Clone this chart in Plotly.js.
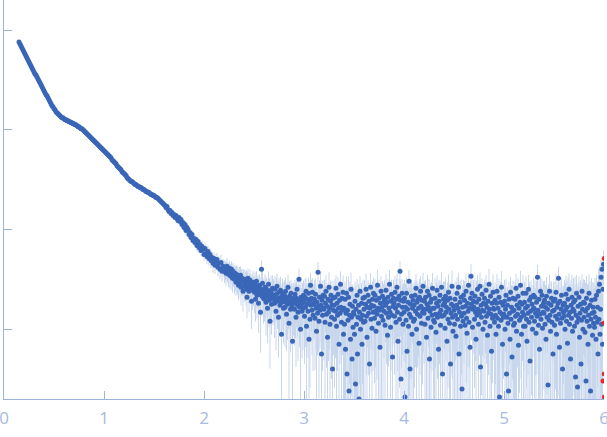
<!DOCTYPE html>
<html><head><meta charset="utf-8">
<script src="https://cdn.plot.ly/plotly-3.0.1.min.js"></script>
<style>html,body{margin:0;padding:0;background:#fff}#chart{width:607px;height:437px}</style>
</head><body><div id="chart"></div>
<script>
// scattering vector q (x) and log10 intensity, smooth low-q part
const qSmooth=[0.15,0.16,0.17,0.18,0.19,0.2,0.21,0.22,0.23,0.24,
0.25,0.26,0.27,0.28,0.29,0.3,0.31,0.32,0.33,0.34,
0.35,0.36,0.37,0.38,0.39,0.4,0.41,0.42,0.43,0.44,
0.45,0.46,0.47,0.48,0.49,0.5,0.51,0.52,0.53,0.54,
0.55,0.56,0.57,0.58,0.59,0.6,0.61,0.62,0.63,0.64,
0.65,0.66,0.67,0.68,0.69,0.7,0.71,0.72,0.73,0.74,
0.75,0.76,0.77,0.78,0.79,0.8,0.81,0.82,0.83,0.84,
0.85,0.86,0.87,0.88,0.89,0.9,0.91,0.92,0.93,0.94,
0.95,0.96,0.97,0.98,0.99,1,1.01,1.02,1.03,1.04,
1.05,1.06,1.07,1.08,1.09,1.1,1.11,1.12,1.13,1.14,
1.15,1.16,1.17,1.18,1.19,1.2,1.21,1.22,1.23,1.24,
1.25,1.26,1.27,1.28,1.29,1.3,1.31,1.32,1.33,1.34,
1.35,1.36,1.37,1.38,1.39,1.4,1.41,1.42,1.43,1.44,
1.45,1.46,1.47,1.48,1.49,1.5,1.51,1.52,1.53,1.54,
1.55,1.56,1.57,1.58,1.59,1.6,1.61,1.62,1.63,1.64,
1.65,1.66,1.67,1.68,1.69,1.7,1.71,1.72,1.73,1.74,
1.75,1.76,1.77,1.78,1.79,1.8,1.81,1.82,1.83,1.84,
1.85,1.86,1.87,1.88,1.89,1.9,1.91,1.92,1.93,1.94,
1.95,1.96,1.97,1.98,1.99,2,2.01,2.02,2.03,2.04,
2.05,2.06,2.07,2.08,2.09,2.1,2.11,2.12,2.13,2.14,
2.15,2.16,2.17,2.18,2.19];
const logISmooth=[-0.12,-0.14,-0.16,-0.18,-0.20,-0.22,-0.24,-0.26,-0.28,-0.30,
-0.32,-0.34,-0.36,-0.38,-0.40,-0.42,-0.44,-0.45,-0.47,-0.49,
-0.51,-0.53,-0.55,-0.57,-0.59,-0.61,-0.63,-0.65,-0.66,-0.68,
-0.70,-0.72,-0.74,-0.76,-0.77,-0.79,-0.80,-0.82,-0.83,-0.84,
-0.85,-0.86,-0.87,-0.88,-0.88,-0.89,-0.90,-0.90,-0.91,-0.91,
-0.92,-0.92,-0.93,-0.93,-0.94,-0.94,-0.95,-0.95,-0.96,-0.97,
-0.97,-0.98,-0.99,-0.99,-1.00,-1.01,-1.02,-1.03,-1.04,-1.05,
-1.06,-1.07,-1.08,-1.09,-1.10,-1.11,-1.12,-1.13,-1.14,-1.15,
-1.16,-1.17,-1.18,-1.19,-1.20,-1.21,-1.22,-1.23,-1.24,-1.25,
-1.26,-1.27,-1.28,-1.30,-1.31,-1.32,-1.33,-1.34,-1.36,-1.37,
-1.38,-1.39,-1.40,-1.42,-1.43,-1.44,-1.45,-1.46,-1.48,-1.49,
-1.50,-1.51,-1.52,-1.52,-1.53,-1.54,-1.55,-1.55,-1.56,-1.57,
-1.57,-1.58,-1.58,-1.59,-1.60,-1.60,-1.61,-1.62,-1.62,-1.63,
-1.63,-1.64,-1.65,-1.65,-1.66,-1.66,-1.67,-1.68,-1.68,-1.69,
-1.70,-1.71,-1.72,-1.73,-1.74,-1.75,-1.76,-1.78,-1.77,-1.80,
-1.82,-1.81,-1.84,-1.83,-1.86,-1.85,-1.88,-1.86,-1.89,-1.91,
-1.88,-1.92,-1.90,-1.95,-1.93,-1.98,-1.95,-2.01,-1.98,-2.00,
-2.05,-2.03,-2.08,-2.05,-2.11,-2.09,-2.13,-2.10,-2.16,-2.12,
-2.18,-2.15,-2.21,-2.17,-2.20,-2.25,-2.19,-2.24,-2.27,-2.22,
-2.29,-2.25,-2.31,-2.28,-2.34,-2.29,-2.36,-2.32,-2.30,-2.38,
-2.34,-2.40,-2.33,-2.42,-2.37];
// uncertainty, units of 1e-4
const errSmooth=[60,58,56,55,53,52,50,48,47,45,
44,42,41,40,38,37,36,35,34,33,
32,31,30,29,28,27,26,25,25,24,
23,22,22,21,20,20,19,19,18,18,
18,17,17,17,16,16,16,16,15,15,
15,15,15,14,14,14,14,14,13,13,
13,13,13,13,12,12,12,12,12,12,
12,12,11,11,11,11,11,11,11,11,
11,11,11,11,11,11,11,11,11,11,
10,10,10,10,10,10,10,10,10,10,
10,10,10,10,10,10,10,10,10,10,
10,10,10,10,10,10,10,10,10,10,
10,10,10,10,10,10,10,10,10,10,
10,10,10,10,10,10,10,10,10,10,
9,9,9,9,9,9,9,9,9,9,
9,9,9,9,9,9,9,9,9,9,
9,9,8,9,9,8,9,9,8,9,
9,8,9,9,8,9,8,9,9,8,
8,9,8,9,8,8,9,8,9,8,
8,9,8,8,9,8,8,9,8,8,
8,8,9,8,8];

// noisy high-q part
const qNoisy=[2.2,2.205,2.21,2.215,2.22,2.225,2.23,2.235,2.24,2.245,2.25,2.255,2.26,2.265,2.27,2.275,2.28,2.285,2.29,2.295,
2.3,2.305,2.31,2.315,2.32,2.325,2.33,2.335,2.34,2.345,2.35,2.355,2.36,2.365,2.37,2.375,2.38,2.385,2.39,2.395,
2.4,2.405,2.41,2.415,2.42,2.425,2.43,2.435,2.44,2.445,2.45,2.455,2.46,2.465,2.47,2.475,2.48,2.485,2.49,2.495,
2.5,2.505,2.51,2.515,2.52,2.525,2.53,2.535,2.54,2.545,2.55,2.555,2.56,2.565,2.57,2.575,2.58,2.585,2.59,2.595,
2.6,2.605,2.61,2.615,2.62,2.625,2.63,2.635,2.64,2.645,2.65,2.655,2.66,2.665,2.67,2.675,2.68,2.685,2.69,2.695,
2.7,2.705,2.71,2.715,2.72,2.725,2.73,2.735,2.74,2.745,2.75,2.755,2.76,2.765,2.77,2.775,2.78,2.785,2.79,2.795,
2.8,2.805,2.81,2.815,2.82,2.825,2.83,2.835,2.84,2.845,2.85,2.855,2.86,2.865,2.87,2.875,2.88,2.885,2.89,2.895,
2.9,2.905,2.91,2.915,2.92,2.925,2.93,2.935,2.94,2.945,2.95,2.955,2.96,2.965,2.97,2.975,2.98,2.985,2.99,2.995,
3,3.005,3.01,3.015,3.02,3.025,3.03,3.035,3.04,3.045,3.05,3.055,3.06,3.065,3.07,3.075,3.08,3.085,3.09,3.095,
3.1,3.105,3.11,3.115,3.12,3.125,3.13,3.135,3.14,3.145,3.15,3.155,3.16,3.165,3.17,3.175,3.18,3.185,3.19,3.195,
3.2,3.205,3.21,3.215,3.22,3.225,3.23,3.235,3.24,3.245,3.25,3.255,3.26,3.265,3.27,3.275,3.28,3.285,3.29,3.295,
3.3,3.305,3.31,3.315,3.32,3.325,3.33,3.335,3.34,3.345,3.35,3.355,3.36,3.365,3.37,3.375,3.38,3.385,3.39,3.395,
3.4,3.405,3.41,3.415,3.42,3.425,3.43,3.435,3.44,3.445,3.45,3.455,3.46,3.465,3.47,3.475,3.48,3.485,3.49,3.495,
3.5,3.505,3.51,3.515,3.52,3.525,3.53,3.535,3.54,3.545,3.55,3.555,3.56,3.565,3.57,3.575,3.58,3.585,3.59,3.595,
3.6,3.605,3.61,3.615,3.62,3.625,3.63,3.635,3.64,3.645,3.65,3.655,3.66,3.665,3.67,3.675,3.68,3.685,3.69,3.695,
3.7,3.705,3.71,3.715,3.72,3.725,3.73,3.735,3.74,3.745,3.75,3.755,3.76,3.765,3.77,3.775,3.78,3.785,3.79,3.795,
3.8,3.805,3.81,3.815,3.82,3.825,3.83,3.835,3.84,3.845,3.85,3.855,3.86,3.865,3.87,3.875,3.88,3.885,3.89,3.895,
3.9,3.905,3.91,3.915,3.92,3.925,3.93,3.935,3.94,3.945,3.95,3.955,3.96,3.965,3.97,3.975,3.98,3.985,3.99,3.995,
4,4.005,4.01,4.015,4.02,4.025,4.03,4.035,4.04,4.045,4.05,4.055,4.06,4.065,4.07,4.075,4.08,4.085,4.09,4.095,
4.1,4.105,4.11,4.115,4.12,4.125,4.13,4.135,4.14,4.145,4.15,4.155,4.16,4.165,4.17,4.175,4.18,4.185,4.19,4.195,
4.2,4.205,4.21,4.215,4.22,4.225,4.23,4.235,4.24,4.245,4.25,4.255,4.26,4.265,4.27,4.275,4.28,4.285,4.29,4.295,
4.3,4.305,4.31,4.315,4.32,4.325,4.33,4.335,4.34,4.345,4.35,4.355,4.36,4.365,4.37,4.375,4.38,4.385,4.39,4.395,
4.4,4.405,4.41,4.415,4.42,4.425,4.43,4.435,4.44,4.445,4.45,4.455,4.46,4.465,4.47,4.475,4.48,4.485,4.49,4.495,
4.5,4.505,4.51,4.515,4.52,4.525,4.53,4.535,4.54,4.545,4.55,4.555,4.56,4.565,4.57,4.575,4.58,4.585,4.59,4.595,
4.6,4.605,4.61,4.615,4.62,4.625,4.63,4.635,4.64,4.645,4.65,4.655,4.66,4.665,4.67,4.675,4.68,4.685,4.69,4.695,
4.7,4.705,4.71,4.715,4.72,4.725,4.73,4.735,4.74,4.745,4.75,4.755,4.76,4.765,4.77,4.775,4.78,4.785,4.79,4.795,
4.8,4.805,4.81,4.815,4.82,4.825,4.83,4.835,4.84,4.845,4.85,4.855,4.86,4.865,4.87,4.875,4.88,4.885,4.89,4.895,
4.9,4.905,4.91,4.915,4.92,4.925,4.93,4.935,4.94,4.945,4.95,4.955,4.96,4.965,4.97,4.975,4.98,4.985,4.99,4.995,
5,5.005,5.01,5.015,5.02,5.025,5.03,5.035,5.04,5.045,5.05,5.055,5.06,5.065,5.07,5.075,5.08,5.085,5.09,5.095,
5.1,5.105,5.11,5.115,5.12,5.125,5.13,5.135,5.14,5.145,5.15,5.155,5.16,5.165,5.17,5.175,5.18,5.185,5.19,5.195,
5.2,5.205,5.21,5.215,5.22,5.225,5.23,5.235,5.24,5.245,5.25,5.255,5.26,5.265,5.27,5.275,5.28,5.285,5.29,5.295,
5.3,5.305,5.31,5.315,5.32,5.325,5.33,5.335,5.34,5.345,5.35,5.355,5.36,5.365,5.37,5.375,5.38,5.385,5.39,5.395,
5.4,5.405,5.41,5.415,5.42,5.425,5.43,5.435,5.44,5.445,5.45,5.455,5.46,5.465,5.47,5.475,5.48,5.485,5.49,5.495,
5.5,5.505,5.51,5.515,5.52,5.525,5.53,5.535,5.54,5.545,5.55,5.555,5.56,5.565,5.57,5.575,5.58,5.585,5.59,5.595,
5.6,5.605,5.61,5.615,5.62,5.625,5.63,5.635,5.64,5.645,5.65,5.655,5.66,5.665,5.67,5.675,5.68,5.685,5.69,5.695,
5.7,5.705,5.71,5.715,5.72,5.725,5.73,5.735,5.74,5.745,5.75,5.755,5.76,5.765,5.77,5.775,5.78,5.785,5.79,5.795,
5.8,5.805,5.81,5.815,5.82,5.825,5.83,5.835,5.84,5.845,5.85,5.855,5.86,5.865,5.87,5.875,5.88,5.885,5.89,5.895,
5.9,5.905,5.91,5.915,5.92,5.925,5.93,5.935,5.94,5.945,5.95,5.955,5.96,5.965,5.97,5.975,5.98,5.985,5.99,5.995];
const logINoisy=[-2.39,-2.42,-2.38,-2.41,-2.44,-2.40,-2.37,-2.43,-2.42,-2.45,-2.41,-2.39,-2.46,-2.43,-2.47,-2.40,-2.44,-2.49,-2.42,-2.46,
-2.46,-2.50,-2.44,-2.48,-2.53,-2.45,-2.49,-2.52,-2.47,-2.56,-2.50,-2.48,-2.54,-2.46,-2.58,-2.51,-2.49,-2.53,-2.62,-2.50,
-2.52,-2.57,-2.50,-2.55,-2.60,-2.53,-2.68,-2.54,-2.49,-2.58,-2.62,-2.55,-2.51,-2.59,-2.57,-2.72,-2.56,-2.61,-2.53,-2.60,
-2.58,-2.63,-2.55,-2.70,-2.60,-2.52,-2.66,-2.61,-2.57,-2.74,-2.62,-2.56,-2.65,-2.83,-2.60,-2.40,-2.67,-2.54,-2.63,-2.69,
-2.62,-2.70,-2.58,-2.66,-2.73,-2.60,-2.64,-2.79,-2.67,-2.55,-2.71,-2.63,-2.92,-2.68,-2.61,-2.75,-2.65,-2.59,-2.70,-2.66,
-2.66,-2.74,-2.60,-2.70,-2.82,-2.65,-2.57,-2.72,-2.69,-2.88,-2.63,-2.71,-2.76,-2.61,-2.68,-3.05,-2.73,-2.64,-2.70,-2.79,
-2.70,-2.66,-2.78,-2.62,-2.73,-2.85,-2.69,-2.75,-2.58,-2.72,-2.94,-2.67,-2.74,-2.80,-2.64,-2.71,-2.77,-3.12,-2.69,-2.73,
-2.72,-2.80,-2.65,-2.74,-2.88,-2.69,-2.60,-2.76,-2.83,-2.71,-2.50,-2.78,-2.73,-3.00,-2.68,-2.75,-2.82,-2.70,-2.79,-2.66,
-2.73,-2.87,-2.68,-2.78,-2.62,-2.97,-2.75,-2.70,-2.82,-2.64,-3.10,-2.72,-2.90,-2.56,-2.76,-2.69,-2.81,-2.63,-2.86,-2.74,
-2.75,-2.70,-2.89,-2.65,-2.79,-3.02,-2.73,-2.84,-2.43,-2.77,-2.92,-2.68,-2.81,-2.57,-2.76,-3.25,-2.71,-2.86,-2.66,-2.79,
-2.80,-2.67,-2.93,-2.74,-2.62,-2.85,-2.77,-3.08,-2.70,-2.83,-2.58,-2.79,-2.95,-2.72,-2.66,-2.88,-2.76,-3.40,-2.69,-2.81,
-2.76,-2.90,-2.68,-2.82,-2.59,-2.97,-2.74,-2.86,-2.65,-2.79,-3.15,-2.71,-2.84,-2.55,-2.78,-2.93,-2.69,-2.81,-2.63,-3.05,
-2.79,-2.95,-2.70,-3.20,-2.84,-2.64,-3.45,-2.81,-2.91,-2.68,-3.62,-2.86,-2.75,-3.10,-2.60,-2.88,-3.30,-2.77,-2.98,-2.83,
-2.85,-3.05,-2.72,-3.55,-2.80,-2.95,-2.66,-3.25,-2.88,-2.76,-3.70,-2.83,-2.62,-3.00,-2.90,-2.74,-3.15,-2.86,-2.69,-2.93,
-2.80,-2.68,-2.92,-2.75,-2.60,-2.87,-3.08,-2.78,-2.66,-2.84,-2.72,-3.35,-2.79,-2.58,-2.90,-2.76,-2.99,-2.70,-2.83,-2.64,
-2.77,-2.89,-2.66,-2.82,-3.02,-2.71,-2.85,-2.56,-2.79,-2.94,-2.69,-2.81,-3.18,-2.74,-2.62,-2.87,-2.78,-2.67,-2.91,-2.73,
-2.82,-2.70,-2.96,-2.76,-2.61,-2.84,-2.73,-3.06,-2.68,-2.88,-2.79,-2.55,-2.83,-2.98,-2.72,-2.65,-2.86,-3.28,-2.77,-2.69,
-2.74,-2.87,-2.63,-2.79,-2.93,-2.70,-2.58,-2.83,-3.12,-2.76,-2.67,-2.90,-2.42,-2.71,-3.50,-2.85,-2.64,-2.78,-2.95,-2.72,
-2.83,-2.69,-3.68,-2.78,-2.91,-2.64,-3.22,-2.80,-2.73,-2.97,-2.52,-2.85,-3.40,-2.75,-2.88,-2.67,-3.05,-2.79,-2.71,-2.92,
-2.76,-2.90,-2.66,-2.82,-2.59,-3.00,-2.73,-2.85,-2.70,-2.79,-3.14,-2.68,-2.87,-2.62,-2.77,-2.94,-2.71,-2.83,-2.57,-2.80,
-2.84,-2.72,-2.95,-2.68,-2.80,-3.08,-2.75,-2.62,-2.89,-2.78,-2.66,-3.30,-2.82,-2.73,-2.98,-2.70,-2.86,-2.59,-2.79,-2.91,
-2.79,-2.93,-2.69,-2.85,-3.03,-2.74,-2.61,-2.88,-2.77,-3.20,-2.72,-2.84,-2.66,-2.96,-2.81,-2.58,-2.87,-3.45,-2.76,-2.70,
-2.86,-2.74,-2.99,-2.67,-2.83,-2.78,-3.12,-2.71,-2.90,-2.63,-2.80,-2.94,-2.69,-3.35,-2.84,-2.75,-2.57,-2.88,-3.02,-2.77,
-2.81,-2.95,-2.70,-2.86,-3.07,-2.76,-2.64,-2.90,-2.79,-2.58,-3.25,-2.83,-2.73,-2.97,-2.68,-2.87,-3.60,-2.78,-2.92,-2.66,
-2.84,-2.71,-2.96,-2.77,-2.62,-2.89,-3.04,-2.74,-2.82,-2.56,-2.93,-2.79,-3.18,-2.69,-2.47,-2.75,-2.64,-2.98,-2.80,-2.72,
-2.78,-2.90,-2.67,-2.83,-3.10,-2.73,-2.86,-2.60,-2.80,-2.95,-2.70,-2.84,-2.57,-3.38,-2.76,-2.88,-2.65,-2.81,-3.00,-2.74,
-2.82,-2.69,-2.93,-2.75,-2.61,-2.87,-2.78,-3.06,-2.72,-2.84,-2.55,-2.80,-2.97,-2.67,-2.85,-3.22,-2.74,-2.89,-2.63,-2.79,
-2.80,-2.93,-2.71,-2.86,-3.05,-2.74,-2.62,-2.89,-2.79,-2.97,-2.68,-3.68,-2.83,-2.73,-2.91,-2.58,-2.85,-3.15,-2.76,-2.88,
-2.85,-2.72,-3.00,-2.80,-2.66,-3.45,-2.88,-2.76,-2.94,-3.62,-2.70,-2.84,-3.10,-2.63,-2.90,-2.78,-3.28,-2.82,-2.69,-2.96,
-2.81,-2.94,-2.70,-2.87,-2.59,-3.02,-2.76,-2.85,-2.67,-3.16,-2.79,-2.91,-2.73,-2.56,-2.88,-3.05,-2.75,-2.83,-2.64,-2.97,
-2.86,-2.73,-2.97,-2.79,-2.64,-2.90,-3.12,-2.77,-2.84,-2.60,-2.93,-2.71,-3.32,-2.82,-2.68,-2.88,-2.75,-3.00,-2.80,-2.66,
-2.79,-2.92,-2.68,-2.84,-3.04,-2.73,-2.87,-2.48,-2.81,-2.96,-2.70,-3.20,-2.85,-2.62,-2.90,-2.77,-2.66,-2.99,-2.83,-2.74,
-2.84,-2.71,-2.95,-2.78,-3.10,-2.67,-2.88,-2.80,-3.56,-2.74,-2.91,-2.62,-2.86,-3.02,-2.76,-2.69,-2.93,-2.82,-3.25,-2.72,
-2.81,-2.96,-2.70,-2.87,-2.63,-3.05,-2.78,-2.90,-2.74,-2.49,-2.85,-3.18,-2.72,-2.94,-2.80,-2.66,-2.89,-3.40,-2.76,-2.83,
-2.87,-2.74,-3.00,-2.81,-2.65,-2.92,-2.78,-3.14,-2.70,-2.86,-2.60,-2.95,-2.83,-3.30,-2.76,-2.89,-2.68,-3.02,-2.80,-2.73,
-2.82,-2.97,-2.71,-3.48,-2.86,-2.64,-2.93,-3.58,-2.77,-2.89,-2.68,-3.08,-2.84,-2.75,-3.35,-2.91,-2.62,-2.80,-3.00,-2.73,
-2.88,-2.74,-3.03,-2.82,-3.52,-2.69,-2.92,-2.79,-3.15,-2.86,-2.64,-2.97,-2.76,-3.62,-2.90,-2.71,-2.84,-3.06,-2.78,-2.94,
-2.83,-2.98,-2.70,-2.88,-3.10,-2.66,-2.93,-2.78,-3.25,-2.62,-2.90,-2.55,-3.05,-2.80,-2.48,-2.95,-2.40,-3.15,-2.60,-2.35];
// uncertainty, units of 1e-4
const errNoisy=[8,9,8,8,9,8,9,8,8,9,8,8,9,8,9,8,8,9,8,8,
8,9,8,9,8,8,9,8,9,8,8,9,8,8,9,9,8,8,9,8,
9,8,8,9,8,9,8,9,8,8,9,8,9,8,8,9,8,9,9,8,
8,9,9,8,9,8,9,8,8,9,9,8,9,9,8,9,8,9,8,9,
9,8,9,9,10,8,9,9,8,10,9,9,8,9,10,9,8,9,9,10,
9,10,9,8,9,10,9,9,10,8,9,10,9,9,8,10,9,9,10,9,
9,9,10,9,10,8,9,10,9,9,10,9,9,10,8,9,10,9,9,10,
10,9,9,10,9,10,8,9,10,9,9,10,9,10,9,8,10,9,10,9,
10,9,11,10,9,10,11,9,10,10,9,11,10,9,10,11,10,9,10,10,
10,11,9,10,10,11,10,9,10,11,10,10,9,11,10,10,11,10,9,10,
11,10,10,9,11,10,10,11,9,10,11,10,10,11,9,10,10,11,10,10,
10,10,11,10,9,11,10,10,11,9,10,11,10,10,11,10,9,10,11,10,
11,12,10,12,11,11,12,10,12,13,11,11,12,10,12,11,12,11,10,12,
11,12,11,12,12,11,10,12,11,11,13,12,10,12,11,11,12,11,11,12,
10,10,11,10,11,10,12,10,9,11,10,11,10,10,9,11,12,10,11,10,
11,10,10,11,9,10,11,12,10,10,11,9,10,11,10,12,10,9,11,10,
10,11,9,10,11,10,10,12,11,9,10,11,10,10,11,9,10,12,10,11,
11,10,11,9,10,12,10,11,10,9,11,10,10,11,12,10,9,11,10,10,
10,11,10,12,9,10,11,10,11,10,9,12,10,11,10,10,11,9,10,11,
11,10,9,11,10,10,12,10,9,11,10,11,10,10,9,11,10,12,10,10,
10,11,10,10,11,9,10,11,12,10,10,9,11,10,11,10,10,11,9,12,
11,10,12,10,9,11,10,10,11,10,12,10,9,11,10,11,10,9,11,10,
10,12,10,11,10,9,11,10,10,12,10,11,9,10,11,10,12,10,10,11,
11,10,10,9,11,12,10,11,10,10,11,9,12,10,11,10,10,11,10,9,
10,11,9,10,12,10,11,10,11,9,10,12,10,10,11,10,9,11,10,12,
11,10,11,10,9,12,10,10,11,10,11,9,10,12,10,11,10,10,11,10,
10,11,10,12,10,9,11,10,10,11,12,10,10,9,11,10,11,10,12,10,
11,10,10,11,9,10,12,11,10,10,11,10,9,11,10,12,10,11,10,10,
10,12,11,10,10,11,10,9,11,12,10,10,11,10,10,11,9,12,10,11,
11,10,10,12,10,11,9,10,11,10,12,10,10,11,10,9,11,10,12,10,
10,11,12,10,11,10,10,9,11,10,12,10,11,10,10,11,10,12,9,11,
11,10,10,11,10,12,10,11,9,10,11,10,12,10,11,10,10,11,10,12,
12,11,10,11,10,12,11,10,11,10,12,11,10,11,12,10,11,10,12,11,
11,12,10,11,12,10,11,12,11,10,12,11,11,12,10,11,12,11,10,12,
12,13,11,14,12,13,14,12,13,14,11,13,14,12,14,13,14,15,13,14,
13,12,14,13,14,12,14,13,12,14,13,14,12,13,14,14,12,13,14,13,
14,13,12,14,13,14,13,12,14,15,13,14,13,12,14,13,15,14,13,14,
14,15,13,14,16,13,15,14,13,16,14,15,13,14,16,15,14,16,15,17];

// flagged points at the high-q edge (red)
const qFlag=[6.003,5.999,6.002,5.99,6.004];
const logIFlag=[-2.29,-2.94,-3.45,-3.52,-3.68];

// x tick labels (y-axis decade ticks carry no labels in the reference)
const xTickVals=[0,1,2,3,4,5,6];
const xTickText=['0','1','2','3','4','5','6'];

const pow10=a=>a.map(v=>Math.pow(10,v));
const e4=a=>a.map(v=>v*1e-4);

const qAll=qSmooth.concat(qNoisy);
const iAll=pow10(logISmooth.concat(logINoisy));
const eAll=e4(errSmooth.concat(errNoisy));

const data=[
 {type:'scatter',mode:'markers',x:qAll,y:iAll,
  marker:{color:'#3a66b8',size:5,line:{width:0}},
  error_y:{type:'data',array:eAll,visible:true,color:'#c9d7ed',thickness:1,width:0},
  hoverinfo:'skip'},
 {type:'scatter',mode:'markers',x:qFlag,y:pow10(logIFlag),
  marker:{color:'#e8262b',size:5,line:{width:0}},hoverinfo:'skip'}
];
const axisColor='#9db3de';
const layout={
 width:607,height:437,
 margin:{l:4,r:3,t:0,b:38,pad:0},
 paper_bgcolor:'#ffffff',plot_bgcolor:'#ffffff',
 showlegend:false,
 xaxis:{range:[0,6],tickmode:'array',tickvals:xTickVals,ticktext:xTickText,
  ticks:'inside',ticklen:8,tickwidth:1,tickcolor:axisColor,
  ticklabeloverflow:'allow',ticklabelstandoff:4,
  showline:true,linecolor:axisColor,linewidth:1,showgrid:false,zeroline:false,
  tickfont:{family:'Open Sans, sans-serif',size:17,color:'#a6bae2'}},
 yaxis:{type:'log',range:[-3.70,0.301],dtick:1,
  ticks:'inside',ticklen:8,tickwidth:1,tickcolor:axisColor,
  showline:true,linecolor:axisColor,linewidth:1,showgrid:false,zeroline:false,
  showticklabels:false}
};
Plotly.newPlot('chart',data,layout,{displayModeBar:false,staticPlot:true});
</script></body></html>
